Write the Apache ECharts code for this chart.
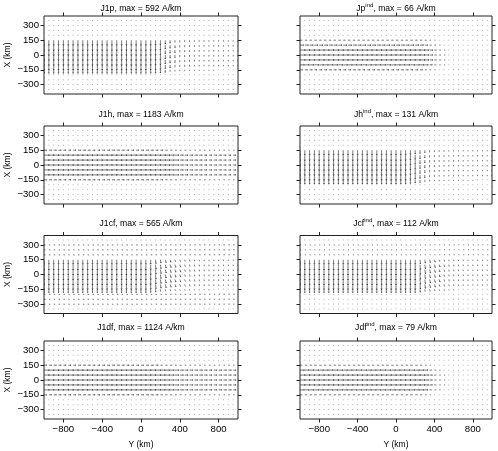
<!DOCTYPE html>
<html>
<head>
<meta charset="utf-8">
<script src="https://cdn.jsdelivr.net/npm/echarts@6/dist/echarts.min.js"></script>
<style>
html, body { margin: 0; padding: 0; background: #fff; }
#main { width: 498px; height: 451px; }
</style>
</head>
<body>
<div id="main"></div>
<script>
// arrow grid (km)
var gridY = [-1000, -950, -900, -850, -800, -750, -700, -650, -600, -550, -500, -450, -400, -350, -300, -250, -200, -150, -100, -50,
    0, 50, 100, 150, 200, 250, 300, 350, 400, 450, 500, 550, 600, 650, 700, 750, 800, 850, 900, 950, 1000];
var gridX = [350, 300, 250, 200, 150, 100, 50, 0, -50, -100, -150, -200, -250, -300, -350];
var yTicks = [-800, -400, 0, 400, 800];
var xTicks = [-300, -150, 0, 150, 300];

var titles = [
    '{n|J1p, max = 592 A/km}', '{n|Jp}{s|ind}{n|, max = 66 A/km}',
    '{n|J1h, max = 1183 A/km}', '{n|Jh}{s|ind}{n|, max = 131 A/km}',
    '{n|J1cf, max = 565 A/km}', '{n|Jcf}{s|ind}{n|, max = 112 A/km}',
    '{n|J1df, max = 1124 A/km}', '{n|Jdf}{s|ind}{n|, max = 79 A/km}'
];

// relative arrow size along Y (one value per column of gridY)
var colJ1p = [1, 1, 1, 1, 1, 1, 1, 1, 1, 1, 1, 1, 1, 1, 1, 1, 1, 1, 1, 1,
    1, 1, 0.98, 0.96, 0.9, 0.72, 0.58, 0.48, 0.42, 0.37, 0.34, 0.32, 0.31, 0.3, 0.29, 0.29, 0.28, 0.28, 0.27, 0.27, 0.26];
var colJpind = [1, 1, 1, 1, 1, 1, 1, 1, 1, 1, 1, 1, 1, 1, 1, 1, 1, 1, 1, 1,
    1, 1, 1, 1, 1, 0.95, 0.78, 0.6, 0.46, 0.35, 0.26, 0.18, 0.12, 0.08, 0.07, 0.06, 0.06, 0.05, 0.05, 0.05, 0.05];
var colJ1h = [1, 1, 1, 1, 1, 1, 1, 1, 1, 1, 1, 1, 1, 1, 1, 1, 1, 1, 1, 1,
    1, 1, 1, 1, 1, 0.9, 0.8, 0.72, 0.66, 0.62, 0.6, 0.58, 0.57, 0.56, 0.55, 0.54, 0.53, 0.52, 0.51, 0.5, 0.5];
var colJhind = [1, 1, 1, 1, 1, 1, 1, 1, 1, 1, 1, 1, 1, 1, 1, 1, 1, 1, 1, 1,
    1, 1, 1, 0.9, 0.8, 0.66, 0.52, 0.43, 0.37, 0.33, 0.3, 0.28, 0.27, 0.26, 0.26, 0.25, 0.25, 0.24, 0.24, 0.24, 0.24];
var colJ1cf = [1, 1, 1, 1, 1, 1, 1, 1, 1, 1, 1, 1, 1, 1, 1, 1, 1, 1, 1, 1,
    1, 1, 0.95, 0.85, 0.75, 0.66, 0.58, 0.52, 0.47, 0.43, 0.4, 0.37, 0.34, 0.32, 0.31, 0.3, 0.29, 0.28, 0.27, 0.26, 0.26];
var colJcfind = [1, 1, 1, 1, 1, 1, 1, 1, 1, 1, 1, 1, 1, 1, 1, 1, 1, 1, 1, 1,
    1, 1, 1, 1, 1, 0.9, 0.76, 0.64, 0.55, 0.48, 0.42, 0.37, 0.33, 0.3, 0.28, 0.27, 0.26, 0.25, 0.24, 0.24, 0.24];
var colJ1df = [1, 1, 1, 1, 1, 1, 1, 1, 1, 1, 1, 1, 1, 1, 1, 1, 1, 1, 1, 1,
    1, 1, 1, 1, 0.92, 0.85, 0.78, 0.72, 0.68, 0.65, 0.63, 0.62, 0.61, 0.6, 0.59, 0.58, 0.58, 0.57, 0.56, 0.55, 0.55];
var colJdfind = [1, 1, 1, 1, 1, 1, 1, 1, 1, 1, 1, 1, 1, 1, 1, 1, 1, 1, 1, 1,
    1, 1, 1, 1, 1, 0.95, 0.72, 0.52, 0.4, 0.3, 0.22, 0.14, 0.1, 0.07, 0.06, 0.06, 0.05, 0.05, 0.05, 0.05, 0.05];

// relative arrow size along X (one value per row of gridX)
var rowJ1p = [0.02, 0.02, 0.03, 0.05, 0.95, 1, 1, 1, 1, 0.95, 0.65, 0.05, 0.03, 0.02, 0.02];
var rowJpind = [0.02, 0.02, 0.03, 0.08, 0.45, 0.7, 1, 1, 1, 0.85, 0.5, 0.08, 0.03, 0.02, 0.02];
var rowJ1h = [0.02, 0.02, 0.03, 0.04, 0.5, 1, 1, 1, 1, 1, 0.5, 0.04, 0.03, 0.02, 0.02];
var rowJhind = [0.02, 0.02, 0.03, 0.05, 0.9, 1, 1, 1, 1, 1, 0.75, 0.06, 0.03, 0.02, 0.02];
var rowJ1cf = [0.02, 0.03, 0.03, 0.04, 0.85, 1, 1, 1, 1, 0.95, 0.6, 0.04, 0.03, 0.03, 0.02];
var rowJcfind = [0.02, 0.03, 0.03, 0.04, 0.85, 1, 1, 1, 1, 0.95, 0.6, 0.04, 0.03, 0.03, 0.02];
var rowJ1df = [0.02, 0.02, 0.03, 0.05, 0.5, 1, 1, 1, 1, 1, 0.5, 0.05, 0.04, 0.03, 0.02];
var rowJdfind = [0.02, 0.02, 0.04, 0.08, 0.45, 0.85, 1, 1, 1, 0.85, 0.45, 0.08, 0.03, 0.02, 0.02];

// tilt of the arrows (degrees) per column, for the cf panels
var tiltJ1cf = [0, 0, 0, 0, 0, 0, 0, 0, 0, 0, 0, 0, 0, 0, 0, 0, 0, 0, 0, 0,
    0, 0, 0, 5, 10, 15, 20, 20, 20, 20, 15, 15, 10, 8, 6, 5, 5, 5, 5, 5, 5];
var tiltJcfind = [0, 0, 0, 0, 0, 0, 0, 0, 0, 0, 0, 0, 0, 0, 0, 0, 0, 0, 0, 0,
    0, 0, 0, 0, 0, 5, 10, 15, 18, 18, 15, 12, 10, 8, 6, 5, 5, 5, 5, 5, 5];
var noTilt = [0, 0, 0, 0, 0, 0, 0, 0, 0, 0, 0, 0, 0, 0, 0, 0, 0, 0, 0, 0,
    0, 0, 0, 0, 0, 0, 0, 0, 0, 0, 0, 0, 0, 0, 0, 0, 0, 0, 0, 0, 0];

// small sideways component in the quiet rows
var crossJ1cf = [0.15, 0.28, 0.28, 0.28, 0, 0, 0, 0, 0, 0, 0, 0.28, 0.28, 0.28, 0.15];
var crossJcfind = [0.1, 0.2, 0.2, 0.2, 0, 0, 0, 0, 0, 0, 0, 0.15, 0.15, 0.15, 0.1];
var noCross = [0, 0, 0, 0, 0, 0, 0, 0, 0, 0, 0, 0, 0, 0, 0];

// 'v' = arrows along X (pointing to -X), 'h' = arrows along Y
var panels = [
    {col: colJ1p, row: rowJ1p, tilt: noTilt, cross: noCross, dir: 'v'},
    {col: colJpind, row: rowJpind, tilt: noTilt, cross: noCross, dir: 'h'},
    {col: colJ1h, row: rowJ1h, tilt: noTilt, cross: noCross, dir: 'h'},
    {col: colJhind, row: rowJhind, tilt: noTilt, cross: noCross, dir: 'v'},
    {col: colJ1cf, row: rowJ1cf, tilt: tiltJ1cf, cross: crossJ1cf, dir: 'v'},
    {col: colJcfind, row: rowJcfind, tilt: tiltJcfind, cross: crossJcfind, dir: 'v'},
    {col: colJ1df, row: rowJ1df, tilt: noTilt, cross: noCross, dir: 'h'},
    {col: colJdfind, row: rowJdfind, tilt: noTilt, cross: noCross, dir: 'h'}
];

var arrowLen = 55; // km drawn for the largest arrow
var lefts = [44, 300];
var widths = [194, 192];
var tops = [16, 126, 235.5, 341];
var titleTops = [2, 108, 217, 321];

function minusFmt(v) {
    return v < 0 ? '\u2212' + Math.abs(v) : String(v);
}

function buildData(p) {
    var out = [];
    for (var i = 0; i < gridY.length; i++) {
        for (var j = 0; j < gridX.length; j++) {
            var m = p.col[i] * p.row[j] * arrowLen;
            var t = p.tilt[i] * Math.PI / 180;
            var c = p.cross[j] * arrowLen;
            var dY, dX;
            if (p.dir === 'v') {
                dY = m * Math.sin(t) + c;
                dX = -m * Math.cos(t);
            } else {
                dY = m * Math.cos(t);
                dX = m * Math.sin(t) + c;
            }
            out.push([gridY[i], gridX[j], dY, dX]);
        }
    }
    return out;
}

function drawArrow(params, api) {
    var p0 = api.coord([api.value(0), api.value(1)]);
    var p1 = api.coord([api.value(0) + api.value(2), api.value(1) + api.value(3)]);
    var dx = p1[0] - p0[0], dy = p1[1] - p0[1];
    var len = Math.sqrt(dx * dx + dy * dy);
    if (len < 1) {
        // almost no current: just a grey dot
        return {
            type: 'rect',
            shape: {x: p0[0] - 0.5, y: p0[1] - 0.5, width: 1, height: 1},
            style: {fill: '#b4b4b4'}
        };
    }
    var kids = [{
        type: 'line',
        shape: {x1: p0[0], y1: p0[1], x2: p1[0], y2: p1[1]},
        style: {stroke: '#222', lineWidth: 0.6}
    }];
    if (len > 2.5) {
        var a = Math.atan2(dy, dx);
        var h = Math.min(1.1, len * 0.25);
        kids.push({
            type: 'polyline',
            shape: {points: [
                [p1[0] - h * Math.cos(a - 0.5), p1[1] - h * Math.sin(a - 0.5)],
                [p1[0], p1[1]],
                [p1[0] - h * Math.cos(a + 0.5), p1[1] - h * Math.sin(a + 0.5)]
            ]},
            style: {stroke: '#222', fill: null, lineWidth: 0.6}
        });
    }
    return {type: 'group', children: kids};
}

var grids = [], xAxes = [], yAxes = [], series = [], titleList = [];
var tickStyle = {color: '#222', width: 1};

for (var k = 0; k < 8; k++) {
    var c = k % 2, r = Math.floor(k / 2);
    grids.push({
        left: lefts[c], top: tops[r], width: widths[c], height: 78,
        show: true, borderColor: '#222', borderWidth: 1, backgroundColor: '#fff'
    });
    titleList.push({
        text: titles[k],
        left: lefts[c] + widths[c] / 2,
        top: titleTops[r],
        textAlign: 'center',
        padding: 0,
        textStyle: {
            fontWeight: 'normal',
            rich: {
                n: {fontFamily: 'Liberation Sans', fontSize: 8.6, fontWeight: 'normal', color: '#000', lineHeight: 11, verticalAlign: 'bottom'},
                s: {fontFamily: 'Liberation Sans', fontSize: 6, fontWeight: 'normal', color: '#000', lineHeight: 11, verticalAlign: 'top'}
            }
        }
    });
    var bottomRow = (r === 3);
    xAxes.push({
        type: 'value', gridIndex: k, position: 'bottom', min: -1000, max: 1000,
        axisLine: {show: false, onZero: false}, splitLine: {show: false},
        axisTick: {show: true, length: 3.5, customValues: yTicks, lineStyle: tickStyle},
        axisLabel: {show: bottomRow, customValues: yTicks, formatter: minusFmt, margin: 5,
            fontFamily: 'Liberation Sans', fontSize: 9.6, color: '#000'},
        name: bottomRow ? 'Y (km)' : '', nameLocation: 'middle', nameGap: 21,
        nameTextStyle: {fontFamily: 'Liberation Sans', fontSize: 8.5, color: '#000'}
    });
    xAxes.push({
        type: 'value', gridIndex: k, position: 'top', min: -1000, max: 1000,
        axisLine: {show: false, onZero: false}, splitLine: {show: false},
        axisTick: {show: true, length: 3.5, customValues: yTicks, lineStyle: tickStyle},
        axisLabel: {show: false}
    });
    yAxes.push({
        type: 'value', gridIndex: k, position: 'left', min: -395, max: 395,
        axisLine: {show: false, onZero: false}, splitLine: {show: false},
        axisTick: {show: true, length: 3.5, customValues: xTicks, lineStyle: tickStyle},
        axisLabel: {show: c === 0, customValues: xTicks, formatter: minusFmt, margin: 5,
            fontFamily: 'Liberation Sans', fontSize: 9.6, color: '#000'},
        name: c === 0 ? 'X (km)' : '', nameLocation: 'middle', nameGap: 32,
        nameTextStyle: {fontFamily: 'Liberation Sans', fontSize: 8.5, color: '#000'}
    });
    yAxes.push({
        type: 'value', gridIndex: k, position: 'right', min: -395, max: 395,
        axisLine: {show: false, onZero: false}, splitLine: {show: false},
        axisTick: {show: true, length: 3.5, customValues: xTicks, lineStyle: tickStyle},
        axisLabel: {show: false}
    });
    series.push({
        type: 'custom',
        xAxisIndex: 2 * k,
        yAxisIndex: 2 * k,
        clip: true,
        silent: true,
        renderItem: drawArrow,
        encode: {x: 0, y: 1},
        data: buildData(panels[k])
    });
}

var myChart = echarts.init(document.getElementById('main'), null, {renderer: 'canvas'});
myChart.setOption({
    animation: false,
    backgroundColor: '#fff',
    title: titleList,
    grid: grids,
    xAxis: xAxes,
    yAxis: yAxes,
    series: series
});
</script>
</body>
</html>
